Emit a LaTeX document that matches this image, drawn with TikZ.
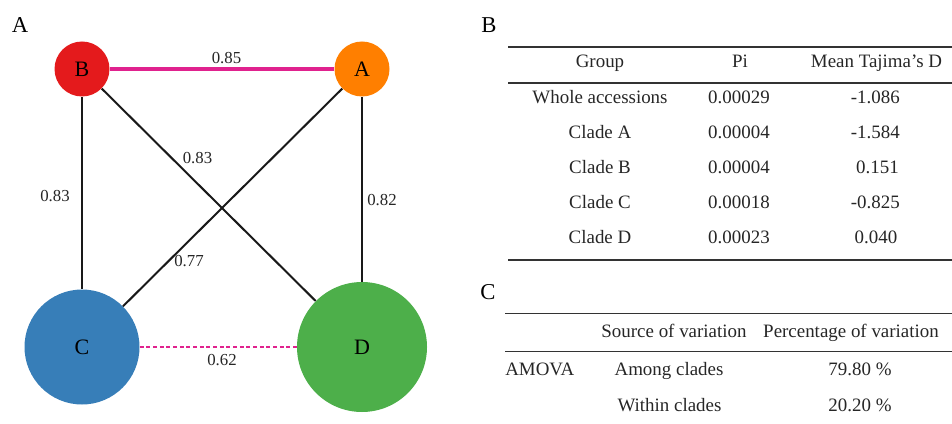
\documentclass[tikz,border=0pt]{standalone}
\usepackage{fontspec}
\setmainfont{Liberation Serif}
\begin{document}
\begin{tikzpicture}[x=0.75pt,y=-0.75pt,
  clade/.style={circle,inner sep=0pt,draw=none,font=\fontsize{16.5}{18}\selectfont},
  link/.style={line width=1.5pt,black!90},
  strong/.style={line width=2.5pt,color=pinkline},
  weak/.style={line width=1.6pt,color=pinkline,dash pattern=on 3pt off 2pt},
  wlabel/.style={font=\fontsize{12.6}{14}\selectfont,text=black!85,inner sep=0pt,
    text height=0.68em,text depth=0.02em},
  panel/.style={font=\fontsize{17}{19}\selectfont,inner sep=0pt,text height=0.68em,text depth=0em},
  cell/.style={font=\fontsize{14.2}{16}\selectfont,text=black!85,inner sep=0pt,
    text height=0.7em,text depth=0.2em},
  rule/.style={line width=1.4pt,black!80}]
\definecolor{cladeA}{HTML}{FF7F00}
\definecolor{cladeB}{HTML}{E41A1C}
\definecolor{cladeC}{HTML}{377EB8}
\definecolor{cladeD}{HTML}{4DAF4A}
\definecolor{pinkline}{HTML}{E0228E}
\useasboundingbox (0,0) rectangle (952,424);

% ---- panel A: clade network
\node[panel] (pA) at (20,27.5) {A};
\node[clade,fill=cladeB,minimum size=41.25pt] (B) at (82,69) {B};
\node[clade,fill=cladeA,minimum size=41.25pt] (A) at (362,69) {A};
\node[clade,fill=cladeC,minimum size=86.25pt] (C) at (82,347) {C};
\node[clade,fill=cladeD,minimum size=97.5pt] (D) at (362,347) {D};

\draw[strong] (B) -- (A);
\draw[link] (B) -- (C);
\draw[link] (B) -- (D);
\draw[link] (A) -- (C);
\draw[link] (A) -- (D);
\draw[weak] (C) -- (D);

\node[wlabel] (l85) at (226.5,59) {0.85};
\node[wlabel] (l83a) at (197.5,159) {0.83};
\node[wlabel] (l83b) at (55,197.5) {0.83};
\node[wlabel] (l82) at (382,201) {0.82};
\node[wlabel] (l77) at (189,262.5) {0.77};
\node[wlabel] (l62) at (222,361) {0.62};

% ---- panel B: diversity table
\node[panel] (pB) at (489,28) {B};
\draw[rule] (508,47) -- (952,47);
\draw[rule] (508,83) -- (952,83);
\draw[rule] (508,260) -- (952,260);

\node[cell] (hg) at (600,64) {Group};
\node[cell] (hp) at (740,64) {Pi};
\node[cell] (ht) at (876.5,64) {Mean Tajima’s D};

\node[cell] (g1) at (600,100) {Whole accessions};
\node[cell] (g2) at (600,135) {Clade A};
\node[cell] (g3) at (600,170) {Clade B};
\node[cell] (g4) at (600,205) {Clade C};
\node[cell] (g5) at (600,240) {Clade D};

\node[cell] (p1) at (739,100) {0.00029};
\node[cell] (p2) at (739,135) {0.00004};
\node[cell] (p3) at (739,170) {0.00004};
\node[cell] (p4) at (739,205) {0.00018};
\node[cell] (p5) at (739,240) {0.00023};

\node[cell,anchor=east] (t1) at (900,100) {-1.086};
\node[cell,anchor=east] (t2) at (900,135) {-1.584};
\node[cell,anchor=east] (t3) at (899,170) {0.151};
\node[cell,anchor=east] (t4) at (900,205) {-0.825};
\node[cell,anchor=east] (t5) at (897.5,240) {0.040};

% ---- panel C: AMOVA table
\node[panel] (pC) at (488,295) {C};
\draw[rule] (505,313.5) -- (952,313.5);
\draw[rule] (505,351.5) -- (952,351.5);

\node[cell] (hs) at (674,334) {Source of variation};
\node[cell] (hv) at (851,334) {Percentage of variation};

\node[cell,anchor=west] (am) at (505,372) {AMOVA};
\node[cell] (s1) at (669,372) {Among clades};
\node[cell] (s2) at (669.5,408) {Within clades};
\node[cell] (v1) at (860,372) {79.80 \%};
\node[cell] (v2) at (860,408) {20.20 \%};
\end{tikzpicture}
\end{document}
